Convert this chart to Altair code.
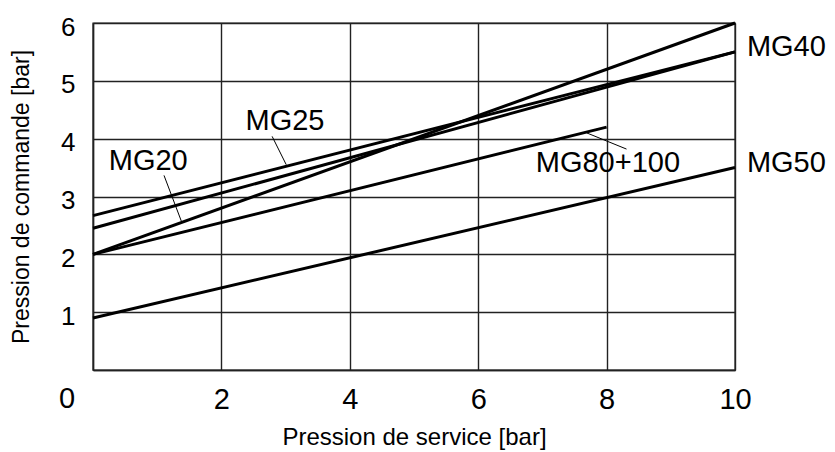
import altair as alt
import pandas as pd

# Line series (straight segments)
series = ["MG20", "MG25", "MG40", "MG50", "MG80+100"]
x_start = [0, 0, 0, 0, 0]
y_start = [2.0, 2.67, 2.45, 0.9, 2.0]
x_end = [10, 10, 10, 10, 8]
y_end = [6.0, 5.5, 5.5, 3.5, 4.2]

# Curve labels
label_text = ["MG40", "MG50", "MG25", "MG20", "MG80+100"]
label_x = [10.80, 10.80, 2.99, 0.86, 8.02]
label_y = [5.58, 3.58, 4.31, 3.62, 3.58]

# Leader lines from labels to curves
lead_x1 = [2.79, 1.106, 7.69]
lead_y1 = [4.04, 3.365, 4.10]
lead_x2 = [3.01, 1.377, 8.31]
lead_y2 = [3.55, 2.571, 3.82]

x_ticks = [0, 2, 4, 6, 8, 10]
y_ticks = [0, 1, 2, 3, 4, 5, 6]

rows = []
for s, xa, ya, xb, yb in zip(series, x_start, y_start, x_end, y_end):
    rows.append({"series": s, "x": xa, "y": ya})
    rows.append({"series": s, "x": xb, "y": yb})
lines_df = pd.DataFrame(rows)
labels_df = pd.DataFrame({"text": label_text, "x": label_x, "y": label_y})
lead_df = pd.DataFrame({"x": lead_x1, "y": lead_y1, "x2": lead_x2, "y2": lead_y2})
corner_df = pd.DataFrame({"x": [0], "y": [0], "text": ["0"]})

FONT = "Liberation Sans"

xscale = alt.Scale(domain=[0, 10], nice=False, zero=False)
yscale = alt.Scale(domain=[0, 6], nice=False, zero=False)

xaxis = alt.Axis(
    values=x_ticks, format="d", labelExpr="datum.value == 0 ? '' : datum.label",
    title="Pression de service [bar]", titleY=74, titleBaseline="alphabetic",
    titleFontSize=24,
    labelFontSize=29, labelPadding=29, labelBaseline="middle",
    ticks=False, tickSize=0, labelFlush=False,
)
yaxis = alt.Axis(
    values=y_ticks, format="d", labelExpr="datum.value == 0 ? '' : datum.label",
    title="Pression de commande [bar]", titleX=-72, titleBaseline="middle",
    titleFontSize=23,
    labelFontSize=26, labelPadding=18, labelBaseline="middle", labelOffset=4,
    ticks=False, tickSize=0, labelFlush=False,
)

lines = alt.Chart(lines_df).mark_line(color="black", strokeWidth=3, clip=False).encode(
    x=alt.X("x:Q", scale=xscale, axis=xaxis),
    y=alt.Y("y:Q", scale=yscale, axis=yaxis),
    detail="series:N",
)

leaders = alt.Chart(lead_df).mark_rule(color="black", strokeWidth=1).encode(
    x="x:Q", y="y:Q", x2="x2:Q", y2="y2:Q"
)

labels = alt.Chart(labels_df).mark_text(
    font=FONT, fontSize=29, color="black", align="center", baseline="middle"
).encode(x="x:Q", y="y:Q", text="text:N")

corner = alt.Chart(corner_df).mark_text(
    font=FONT, fontSize=29, color="black", align="center", baseline="middle", dx=-26, dy=29
).encode(x="x:Q", y="y:Q", text="text:N")

chart = (
    alt.layer(lines, leaders, labels, corner)
    .properties(
        width=642, height=347,
        padding={"left": 85, "top": 15, "right": 92, "bottom": 82},
        autosize=alt.AutoSizeParams(type="none"),
        background="white",
    )
    .configure_view(stroke="#222222", strokeWidth=1.4)
    .configure_axis(
        grid=True, gridColor="#222222", gridWidth=1.4, gridOpacity=1,
        domain=True, domainColor="#222222", domainWidth=1.4,
        labelFont=FONT, labelColor="black",
        titleFont=FONT, titleFontWeight="normal", titleColor="black",
    )
)

chart.save("out.html", embed_options={"renderer": "svg", "actions": False})
